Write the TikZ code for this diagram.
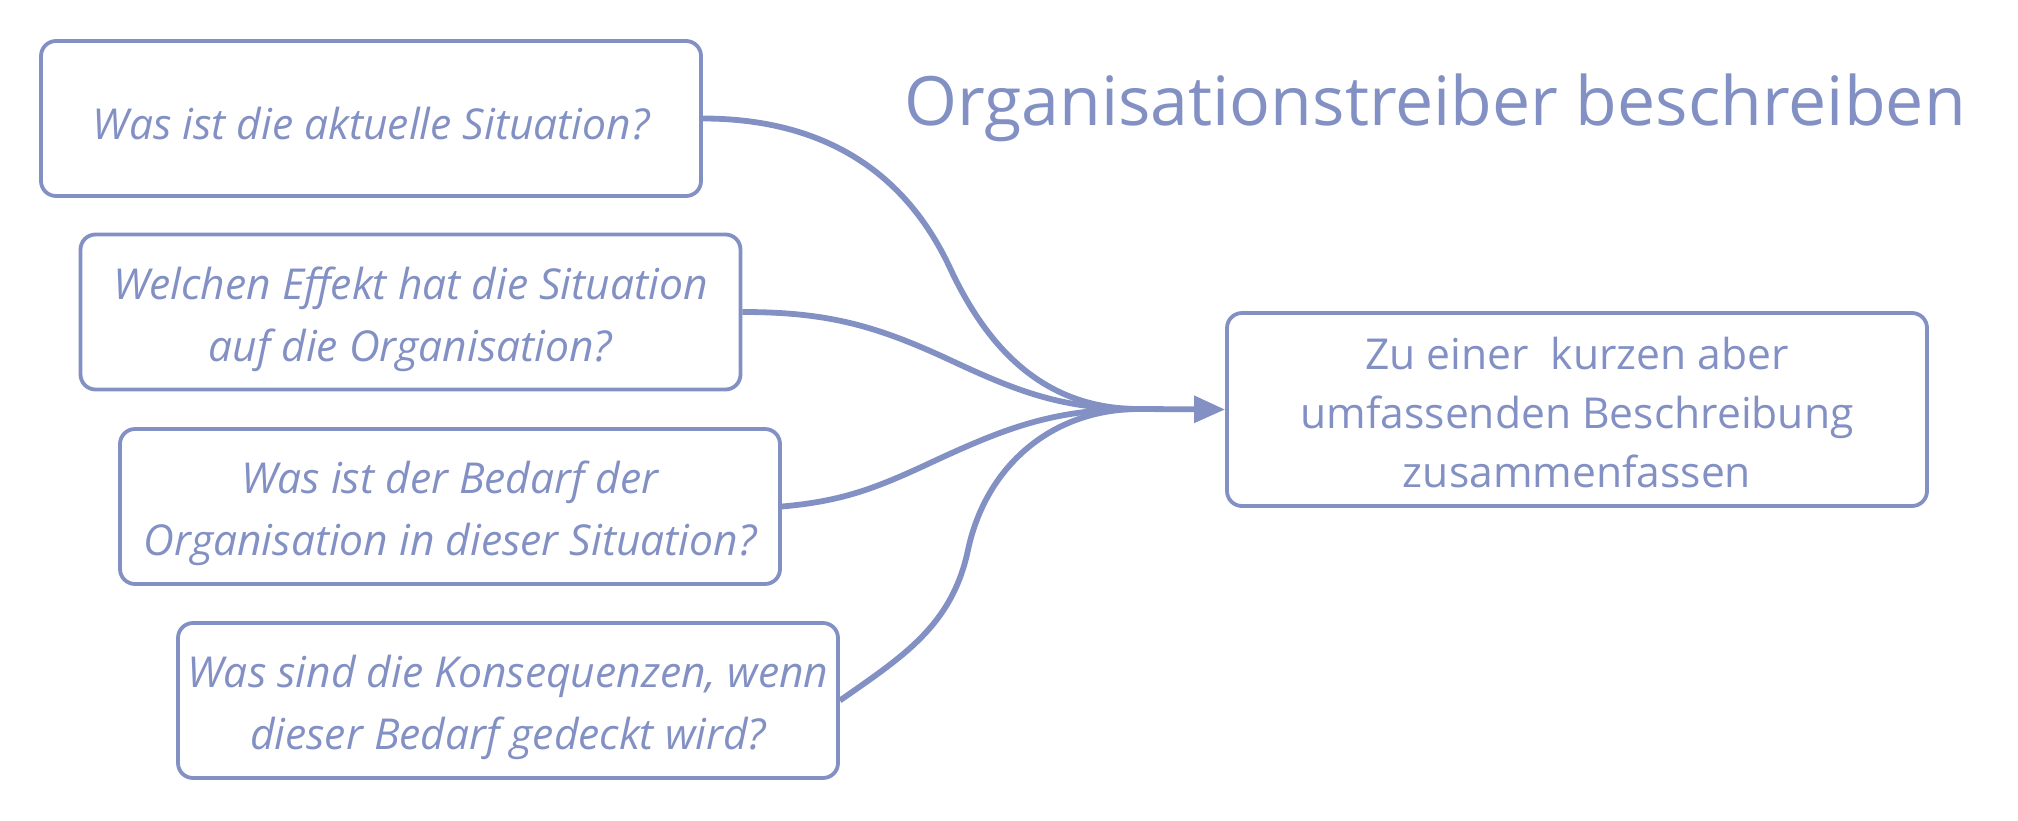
\documentclass[tikz,border=0pt]{standalone}
\usepackage{fontspec}
\setmainfont{Open Sans}
\usetikzlibrary{arrows.meta}
\definecolor{lav}{HTML}{8290C4}
\begin{document}
\begin{tikzpicture}[x=0.5pt,y=-0.5pt,
  qbox/.style={draw=lav,line width=1.9pt,rounded corners=7.5pt,minimum width=330pt,minimum height=77.5pt,inner sep=0pt},
  qtext/.style={text=lav,align=center,font=\fontsize{21.3}{31}\selectfont\itshape,inner sep=0pt},
  conn/.style={draw=lav,line width=2.9pt}]
\useasboundingbox (0,0) rectangle (2018,820);
\node[qbox] (q1) at (371,118.5) {};
\node[qbox] (q2) at (410.5,312) {};
\node[qbox] (q3) at (450,506.5) {};
\node[qbox] (q4) at (508,700.5) {};
\node[qbox,minimum width=350pt,minimum height=96.5pt] (r) at (1577,409.5) {};
\node[qtext] (q1t) at ([yshift=-2.5pt]q1.center) {Was ist die aktuelle Situation?};
\node[qtext] (q2t) at ([yshift=-3.5pt]q2.center) {Welchen Effekt hat die Situation\\auf die Organisation?};
\node[qtext] (q3t) at ([yshift=-3.5pt]q3.center) {Was ist der Bedarf der\\Organisation in dieser Situation?};
\node[qtext] (q4t) at ([yshift=-3.5pt]q4.center) {Was sind die Konsequenzen, wenn\\dieser Bedarf gedeckt wird?};
\node[qtext,font=\fontsize{21.3}{29.5}\selectfont] (rt) at ([yshift=-1.5pt]r.center) {Zu einer\ \ kurzen aber\\umfassenden Beschreibung\\zusammenfassen};
\node[text=lav,font=\fontsize{34}{40}\selectfont,anchor=base] (t) at (1435,125) {Organisationstreiber beschreiben};
\coordinate (m) at (1139,409);
\coordinate (c1) at (950,268);
\coordinate (c2) at (950,360);
\coordinate (c3) at (930,463);
\coordinate (c4) at (968,550);
\draw[conn] (q1.east) to[out=0,in=115] (c1) to[out=-65,in=180] (m);
\draw[conn] (q2.east) to[out=0,in=155] (c2) to[out=-25,in=180] (m);
\draw[conn] (q3.east) to[out=5,in=205] (c3) to[out=25,in=180] (m);
\draw[conn] (q4.east) to[out=35,in=-102] (c4) to[out=78,in=180] (m);
\draw[conn,-{Triangle[length=15.5pt,width=13pt]}] (m) -- (r.west);
\end{tikzpicture}
\end{document}
